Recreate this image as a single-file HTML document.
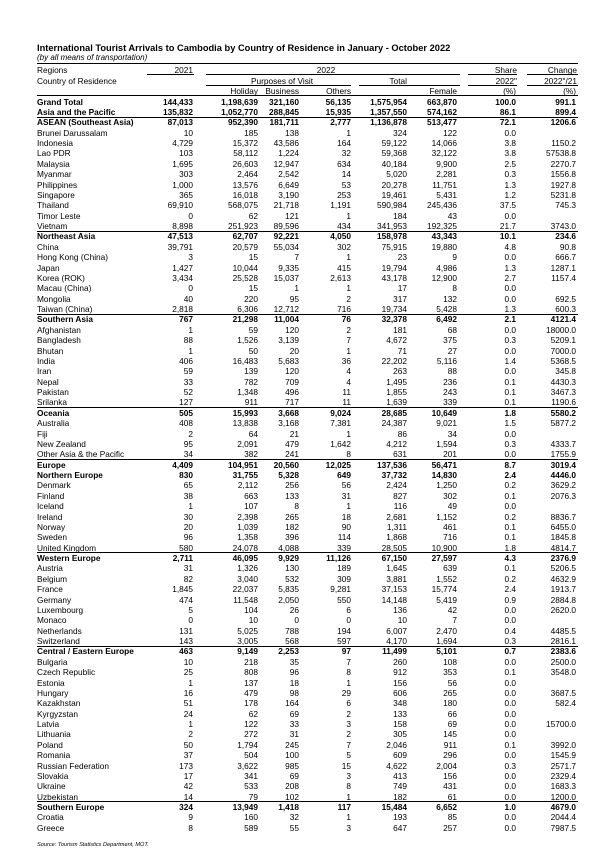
<!DOCTYPE html>
<html>
<head>
<meta charset="utf-8">
<style>
html,body{margin:0;padding:0;}
body{width:608px;height:865px;background:#fff;position:relative;overflow:hidden;font-family:"Liberation Sans",Arial,sans-serif;color:#000;}
.abs{position:absolute;white-space:nowrap;line-height:10px;}
.ln{position:absolute;height:1px;background:#000;}
#tb{position:absolute;left:0;top:96.6px;width:608px;}
.r,.h{position:relative;height:10.38px;font-size:8.3px;line-height:10px;width:608px;}
.h{position:absolute;left:0;}
.r span,.h span{position:absolute;top:0;white-space:nowrap;}
.r span:nth-child(1){left:37px}
.r span:nth-child(2){right:415px}
.r span:nth-child(3){right:350px}
.r span:nth-child(4){right:309px}
.r span:nth-child(5){right:257px}
.r span:nth-child(6){right:201px}
.r span:nth-child(7){right:151px}
.r span:nth-child(8){right:92px}
.r span:nth-child(9){right:32px}
.b{font-weight:bold;}
.t::before{content:"";position:absolute;left:37px;width:541px;top:-0.8px;height:1px;background:#000;}
</style>
</head>
<body>
<div class="abs" style="left:37px;top:43.4px;font-size:9.3px;font-weight:bold;">International Tourist Arrivals to Cambodia by Country of Residence in January - October 2022</div>
<div class="abs" style="left:37px;top:52.6px;font-size:8px;font-style:italic;">(by all means of transportation)</div>

<div class="ln" style="left:37px;width:541px;top:63px;"></div>

<div class="h" style="top:65.1px;">
<span style="left:37px">Regions</span>
<span style="right:415px">2021</span>
<span style="left:286px;width:80px;text-align:center">2022</span>
<span style="right:91px">Share</span>
<span style="right:31px">Change</span>
</div>
<div class="ln" style="left:147px;width:47px;top:74px;"></div>
<div class="ln" style="left:206px;width:254px;top:74px;"></div>
<div class="ln" style="left:468px;width:49px;top:74px;"></div>
<div class="ln" style="left:527px;width:51px;top:74px;"></div>

<div class="h" style="top:75.8px;">
<span style="left:37px">Country of Residence</span>
<span style="left:222px;width:120px;text-align:center">Purposes of Visit</span>
<span style="right:201px">Total</span>
<span style="right:91px">2022"</span>
<span style="right:31px">2022"/21</span>
</div>
<div class="ln" style="left:206px;width:145px;top:85.3px;"></div>
<div class="ln" style="left:359px;width:101px;top:85.3px;"></div>
<div class="ln" style="left:468px;width:49px;top:85.3px;"></div>
<div class="ln" style="left:527px;width:51px;top:85.3px;"></div>

<div class="h" style="top:86.1px;">
<span style="right:350px">Holiday</span>
<span style="right:309px">Business</span>
<span style="right:257px">Others</span>
<span style="right:151px">Female</span>
<span style="right:92px">(%)</span>
<span style="right:32px">(%)</span>
</div>
<div class="ln" style="left:37px;width:541px;top:95.3px;"></div>

<div id="tb">
<div class="r b"><span>Grand Total</span><span>144,433</span><span>1,198,639</span><span>321,160</span><span>56,135</span><span>1,575,954</span><span>663,870</span><span>100.0</span><span>991.1</span></div>
<div class="r b"><span>Asia and the Pacific</span><span>135,832</span><span>1,052,770</span><span>288,845</span><span>15,935</span><span>1,357,550</span><span>574,162</span><span>86.1</span><span>899.4</span></div>
<div class="r b t"><span>ASEAN (Southeast Asia)</span><span>87,013</span><span>952,390</span><span>181,711</span><span>2,777</span><span>1,136,878</span><span>513,477</span><span>72.1</span><span>1206.6</span></div>
<div class="r"><span>Brunei Darussalam</span><span>10</span><span>185</span><span>138</span><span>1</span><span>324</span><span>122</span><span>0.0</span></div>
<div class="r"><span>Indonesia</span><span>4,729</span><span>15,372</span><span>43,586</span><span>164</span><span>59,122</span><span>14,066</span><span>3.8</span><span>1150.2</span></div>
<div class="r"><span>Lao PDR</span><span>103</span><span>58,112</span><span>1,224</span><span>32</span><span>59,368</span><span>32,122</span><span>3.8</span><span>57538.8</span></div>
<div class="r"><span>Malaysia</span><span>1,695</span><span>26,603</span><span>12,947</span><span>634</span><span>40,184</span><span>9,900</span><span>2.5</span><span>2270.7</span></div>
<div class="r"><span>Myanmar</span><span>303</span><span>2,464</span><span>2,542</span><span>14</span><span>5,020</span><span>2,281</span><span>0.3</span><span>1556.8</span></div>
<div class="r"><span>Philippines</span><span>1,000</span><span>13,576</span><span>6,649</span><span>53</span><span>20,278</span><span>11,751</span><span>1.3</span><span>1927.8</span></div>
<div class="r"><span>Singapore</span><span>365</span><span>16,018</span><span>3,190</span><span>253</span><span>19,461</span><span>5,431</span><span>1.2</span><span>5231.8</span></div>
<div class="r"><span>Thailand</span><span>69,910</span><span>568,075</span><span>21,718</span><span>1,191</span><span>590,984</span><span>245,436</span><span>37.5</span><span>745.3</span></div>
<div class="r"><span>Timor Leste</span><span>0</span><span>62</span><span>121</span><span>1</span><span>184</span><span>43</span><span>0.0</span></div>
<div class="r"><span>Vietnam</span><span>8,898</span><span>251,923</span><span>89,596</span><span>434</span><span>341,953</span><span>192,325</span><span>21.7</span><span>3743.0</span></div>
<div class="r b t"><span>Northeast Asia</span><span>47,513</span><span>62,707</span><span>92,221</span><span>4,050</span><span>158,978</span><span>43,343</span><span>10.1</span><span>234.6</span></div>
<div class="r"><span>China</span><span>39,791</span><span>20,579</span><span>55,034</span><span>302</span><span>75,915</span><span>19,880</span><span>4.8</span><span>90.8</span></div>
<div class="r"><span>Hong Kong (China)</span><span>3</span><span>15</span><span>7</span><span>1</span><span>23</span><span>9</span><span>0.0</span><span>666.7</span></div>
<div class="r"><span>Japan</span><span>1,427</span><span>10,044</span><span>9,335</span><span>415</span><span>19,794</span><span>4,986</span><span>1.3</span><span>1287.1</span></div>
<div class="r"><span>Korea (ROK)</span><span>3,434</span><span>25,528</span><span>15,037</span><span>2,613</span><span>43,178</span><span>12,900</span><span>2.7</span><span>1157.4</span></div>
<div class="r"><span>Macau (China)</span><span>0</span><span>15</span><span>1</span><span>1</span><span>17</span><span>8</span><span>0.0</span></div>
<div class="r"><span>Mongolia</span><span>40</span><span>220</span><span>95</span><span>2</span><span>317</span><span>132</span><span>0.0</span><span>692.5</span></div>
<div class="r"><span>Taiwan (China)</span><span>2,818</span><span>6,306</span><span>12,712</span><span>716</span><span>19,734</span><span>5,428</span><span>1.3</span><span>600.3</span></div>
<div class="r b t"><span>Southern Asia</span><span>767</span><span>21,298</span><span>11,004</span><span>76</span><span>32,378</span><span>6,492</span><span>2.1</span><span>4121.4</span></div>
<div class="r"><span>Afghanistan</span><span>1</span><span>59</span><span>120</span><span>2</span><span>181</span><span>68</span><span>0.0</span><span>18000.0</span></div>
<div class="r"><span>Bangladesh</span><span>88</span><span>1,526</span><span>3,139</span><span>7</span><span>4,672</span><span>375</span><span>0.3</span><span>5209.1</span></div>
<div class="r"><span>Bhutan</span><span>1</span><span>50</span><span>20</span><span>1</span><span>71</span><span>27</span><span>0.0</span><span>7000.0</span></div>
<div class="r"><span>India</span><span>406</span><span>16,483</span><span>5,683</span><span>36</span><span>22,202</span><span>5,116</span><span>1.4</span><span>5368.5</span></div>
<div class="r"><span>Iran</span><span>59</span><span>139</span><span>120</span><span>4</span><span>263</span><span>88</span><span>0.0</span><span>345.8</span></div>
<div class="r"><span>Nepal</span><span>33</span><span>782</span><span>709</span><span>4</span><span>1,495</span><span>236</span><span>0.1</span><span>4430.3</span></div>
<div class="r"><span>Pakistan</span><span>52</span><span>1,348</span><span>496</span><span>11</span><span>1,855</span><span>243</span><span>0.1</span><span>3467.3</span></div>
<div class="r"><span>Srilanka</span><span>127</span><span>911</span><span>717</span><span>11</span><span>1,639</span><span>339</span><span>0.1</span><span>1190.6</span></div>
<div class="r b t"><span>Oceania</span><span>505</span><span>15,993</span><span>3,668</span><span>9,024</span><span>28,685</span><span>10,649</span><span>1.8</span><span>5580.2</span></div>
<div class="r"><span>Australia</span><span>408</span><span>13,838</span><span>3,168</span><span>7,381</span><span>24,387</span><span>9,021</span><span>1.5</span><span>5877.2</span></div>
<div class="r"><span>Fiji</span><span>2</span><span>64</span><span>21</span><span>1</span><span>86</span><span>34</span><span>0.0</span></div>
<div class="r"><span>New Zealand</span><span>95</span><span>2,091</span><span>479</span><span>1,642</span><span>4,212</span><span>1,594</span><span>0.3</span><span>4333.7</span></div>
<div class="r"><span>Other Asia &amp; the Pacific</span><span>34</span><span>382</span><span>241</span><span>8</span><span>631</span><span>201</span><span>0.0</span><span>1755.9</span></div>
<div class="r b t"><span>Europe</span><span>4,409</span><span>104,951</span><span>20,560</span><span>12,025</span><span>137,536</span><span>56,471</span><span>8.7</span><span>3019.4</span></div>
<div class="r b"><span>Northern Europe</span><span>830</span><span>31,755</span><span>5,328</span><span>649</span><span>37,732</span><span>14,830</span><span>2.4</span><span>4446.0</span></div>
<div class="r"><span>Denmark</span><span>65</span><span>2,112</span><span>256</span><span>56</span><span>2,424</span><span>1,250</span><span>0.2</span><span>3629.2</span></div>
<div class="r"><span>Finland</span><span>38</span><span>663</span><span>133</span><span>31</span><span>827</span><span>302</span><span>0.1</span><span>2076.3</span></div>
<div class="r"><span>Iceland</span><span>1</span><span>107</span><span>8</span><span>1</span><span>116</span><span>49</span><span>0.0</span></div>
<div class="r"><span>Ireland</span><span>30</span><span>2,398</span><span>265</span><span>18</span><span>2,681</span><span>1,152</span><span>0.2</span><span>8836.7</span></div>
<div class="r"><span>Norway</span><span>20</span><span>1,039</span><span>182</span><span>90</span><span>1,311</span><span>461</span><span>0.1</span><span>6455.0</span></div>
<div class="r"><span>Sweden</span><span>96</span><span>1,358</span><span>396</span><span>114</span><span>1,868</span><span>716</span><span>0.1</span><span>1845.8</span></div>
<div class="r"><span>United Kingdom</span><span>580</span><span>24,078</span><span>4,088</span><span>339</span><span>28,505</span><span>10,900</span><span>1.8</span><span>4814.7</span></div>
<div class="r b t"><span>Western Europe</span><span>2,711</span><span>46,095</span><span>9,929</span><span>11,126</span><span>67,150</span><span>27,597</span><span>4.3</span><span>2376.9</span></div>
<div class="r"><span>Austria</span><span>31</span><span>1,326</span><span>130</span><span>189</span><span>1,645</span><span>639</span><span>0.1</span><span>5206.5</span></div>
<div class="r"><span>Belgium</span><span>82</span><span>3,040</span><span>532</span><span>309</span><span>3,881</span><span>1,552</span><span>0.2</span><span>4632.9</span></div>
<div class="r"><span>France</span><span>1,845</span><span>22,037</span><span>5,835</span><span>9,281</span><span>37,153</span><span>15,774</span><span>2.4</span><span>1913.7</span></div>
<div class="r"><span>Germany</span><span>474</span><span>11,548</span><span>2,050</span><span>550</span><span>14,148</span><span>5,419</span><span>0.9</span><span>2884.8</span></div>
<div class="r"><span>Luxembourg</span><span>5</span><span>104</span><span>26</span><span>6</span><span>136</span><span>42</span><span>0.0</span><span>2620.0</span></div>
<div class="r"><span>Monaco</span><span>0</span><span>10</span><span>0</span><span>0</span><span>10</span><span>7</span><span>0.0</span></div>
<div class="r"><span>Netherlands</span><span>131</span><span>5,025</span><span>788</span><span>194</span><span>6,007</span><span>2,470</span><span>0.4</span><span>4485.5</span></div>
<div class="r"><span>Switzerland</span><span>143</span><span>3,005</span><span>568</span><span>597</span><span>4,170</span><span>1,694</span><span>0.3</span><span>2816.1</span></div>
<div class="r b t"><span>Central / Eastern Europe</span><span>463</span><span>9,149</span><span>2,253</span><span>97</span><span>11,499</span><span>5,101</span><span>0.7</span><span>2383.6</span></div>
<div class="r"><span>Bulgaria</span><span>10</span><span>218</span><span>35</span><span>7</span><span>260</span><span>108</span><span>0.0</span><span>2500.0</span></div>
<div class="r"><span>Czech Republic</span><span>25</span><span>808</span><span>96</span><span>8</span><span>912</span><span>353</span><span>0.1</span><span>3548.0</span></div>
<div class="r"><span>Estonia</span><span>1</span><span>137</span><span>18</span><span>1</span><span>156</span><span>56</span><span>0.0</span></div>
<div class="r"><span>Hungary</span><span>16</span><span>479</span><span>98</span><span>29</span><span>606</span><span>265</span><span>0.0</span><span>3687.5</span></div>
<div class="r"><span>Kazakhstan</span><span>51</span><span>178</span><span>164</span><span>6</span><span>348</span><span>180</span><span>0.0</span><span>582.4</span></div>
<div class="r"><span>Kyrgyzstan</span><span>24</span><span>62</span><span>69</span><span>2</span><span>133</span><span>66</span><span>0.0</span></div>
<div class="r"><span>Latvia</span><span>1</span><span>122</span><span>33</span><span>3</span><span>158</span><span>69</span><span>0.0</span><span>15700.0</span></div>
<div class="r"><span>Lithuania</span><span>2</span><span>272</span><span>31</span><span>2</span><span>305</span><span>145</span><span>0.0</span></div>
<div class="r"><span>Poland</span><span>50</span><span>1,794</span><span>245</span><span>7</span><span>2,046</span><span>911</span><span>0.1</span><span>3992.0</span></div>
<div class="r"><span>Romania</span><span>37</span><span>504</span><span>100</span><span>5</span><span>609</span><span>296</span><span>0.0</span><span>1545.9</span></div>
<div class="r"><span>Russian Federation</span><span>173</span><span>3,622</span><span>985</span><span>15</span><span>4,622</span><span>2,004</span><span>0.3</span><span>2571.7</span></div>
<div class="r"><span>Slovakia</span><span>17</span><span>341</span><span>69</span><span>3</span><span>413</span><span>156</span><span>0.0</span><span>2329.4</span></div>
<div class="r"><span>Ukraine</span><span>42</span><span>533</span><span>208</span><span>8</span><span>749</span><span>431</span><span>0.0</span><span>1683.3</span></div>
<div class="r"><span>Uzbekistan</span><span>14</span><span>79</span><span>102</span><span>1</span><span>182</span><span>61</span><span>0.0</span><span>1200.0</span></div>
<div class="r b t"><span>Southern Europe</span><span>324</span><span>13,949</span><span>1,418</span><span>117</span><span>15,484</span><span>6,652</span><span>1.0</span><span>4679.0</span></div>
<div class="r"><span>Croatia</span><span>9</span><span>160</span><span>32</span><span>1</span><span>193</span><span>85</span><span>0.0</span><span>2044.4</span></div>
<div class="r"><span>Greece</span><span>8</span><span>589</span><span>55</span><span>3</span><span>647</span><span>257</span><span>0.0</span><span>7987.5</span></div>
</div>

<div class="abs" style="left:37px;top:840px;font-size:5.6px;font-style:italic;">Source: Tourism Statistics Department, MOT.</div>
</body>
</html>
